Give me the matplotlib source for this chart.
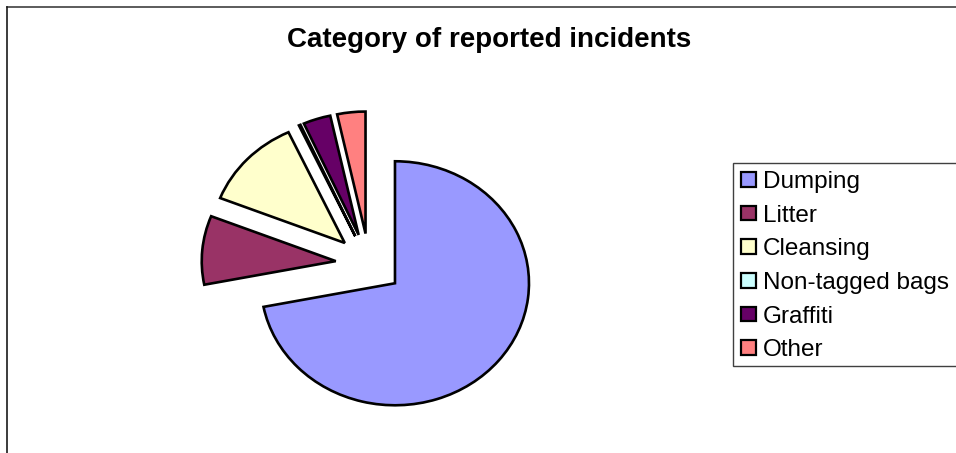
import matplotlib
matplotlib.use('agg')
import matplotlib.pyplot as plt
from matplotlib.patches import Rectangle, Patch
from matplotlib.lines import Line2D

# data
categories = ['Dumping', 'Litter', 'Cleansing', 'Non-tagged bags', 'Graffiti', 'Other']
shares = [71.9, 9.1, 12.1, 0.2, 3.3, 3.4]
colours = ['#9999FF', '#993366', '#FFFFCC', '#CCFFFF', '#660066', '#FF8080']
title = 'Category of reported incidents'

plt.rcParams['font.family'] = ['Liberation Sans', 'DejaVu Sans']

W, H = 956, 453
fig = plt.figure(figsize=(W / 100, H / 100), dpi=100)

# whole-figure axes, pie unit = 134 px wide, 122 px high
ax = fig.add_axes([0, 0, 1, 1])
cx, cy, rx, ry = 369.1, 263.9, 134.0, 122.0
ax.pie(shares, colors=colours, startangle=90, counterclock=False,
       explode=[0.25] * len(shares),
       wedgeprops=dict(edgecolor='black', linewidth=1.9))
ax.set_aspect('auto')
ax.set_xlim(-cx / rx, (W - cx) / rx)
ax.set_ylim(-(H - cy) / ry, cy / ry)
ax.axis('off')

# outer chart frame (cropped on right and bottom)
fig.add_artist(Line2D([6.5 / W, 1.0], [1 - 6.5 / H, 1 - 6.5 / H],
                      transform=fig.transFigure, color='#404040', linewidth=1.2))
fig.add_artist(Line2D([6.5 / W, 6.5 / W], [0, 1 - 6.5 / H],
                      transform=fig.transFigure, color='#1a1a1a', linewidth=1.2))

fig.text(489 / W, 1 - 40 / H, title, ha='center', va='center',
         fontsize=20, fontweight='bold')

# legend
fig.add_artist(Rectangle((733 / W, 1 - 366 / H), 0.5, 203 / H,
                         transform=fig.transFigure, facecolor='white',
                         edgecolor='#404040', linewidth=1.0))
handles = [Patch(facecolor=c, edgecolor='black', linewidth=1.6) for c in colours]
fig.legend(handles, categories, loc='upper left',
           bbox_to_anchor=(741 / W, 1 - 171 / H), frameon=False,
           fontsize=17.5, handlelength=0.6, handleheight=0.55,
           handletextpad=0.3, labelspacing=0.48, borderpad=0, borderaxespad=0)

plt.savefig('out.png', dpi=100)
